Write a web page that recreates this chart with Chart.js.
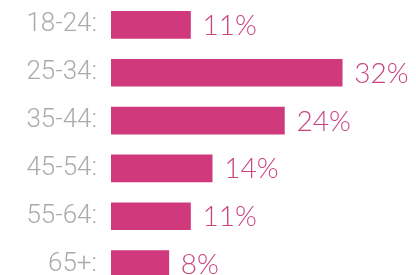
<!DOCTYPE html>
<html>
<head>
<meta charset="utf-8">
<script src="https://cdn.jsdelivr.net/npm/chart.js@4"></script>
<style>
  html, body { margin: 0; padding: 0; background: #fff; overflow: hidden; }
  #wrap { width: 416px; height: 288px; }
</style>
</head>
<body>
<div id="wrap"><canvas id="ages"></canvas></div>
<script>
const ageGroups = ["18-24:", "25-34:", "35-44:", "45-54:", "55-64:", "65+:"];
const shares = [11, 32, 24, 14, 11, 8];

const BAR = "#d03a7c";
const VALUE_TEXT = "#c8457f";
const LABEL_TEXT = "#ababab";

// write "NN%" just right of each bar
const valueLabels = {
  id: "valueLabels",
  afterDatasetsDraw(chart) {
    const ctx = chart.ctx;
    const meta = chart.getDatasetMeta(0);
    ctx.save();
    ctx.font = "300 28px Lato";
    ctx.fillStyle = VALUE_TEXT;
    ctx.textAlign = "left";
    ctx.textBaseline = "middle";
    meta.data.forEach((bar, i) => {
      ctx.fillText(shares[i] + "%", bar.x + 12, bar.y + 1);
    });
    ctx.restore();
  }
};

new Chart("ages", {
  type: "bar",
  data: {
    labels: ageGroups,
    datasets: [{data: shares, backgroundColor: BAR, barThickness: 27, borderWidth: 0}]
  },
  options: {
    indexAxis: "y",
    responsive: true,
    maintainAspectRatio: false,
    animation: false,
    layout: {padding: {top: 1, right: 16, bottom: 0, left: 0}},
    scales: {
      x: {display: false, min: 0, max: 40},
      y: {
        grid: {display: false, drawTicks: false},
        border: {display: false},
        ticks: {color: LABEL_TEXT, padding: 14, font: {family: "Roboto", size: 26, weight: "300", lineHeight: 0.05}},
        afterFit: (scale) => { scale.width = 111; scale.paddingTop = 0; scale.paddingBottom = 0; }
      }
    },
    plugins: {legend: {display: false}, tooltip: {enabled: false}}
  },
  plugins: [valueLabels]
});
</script>
</body>
</html>
